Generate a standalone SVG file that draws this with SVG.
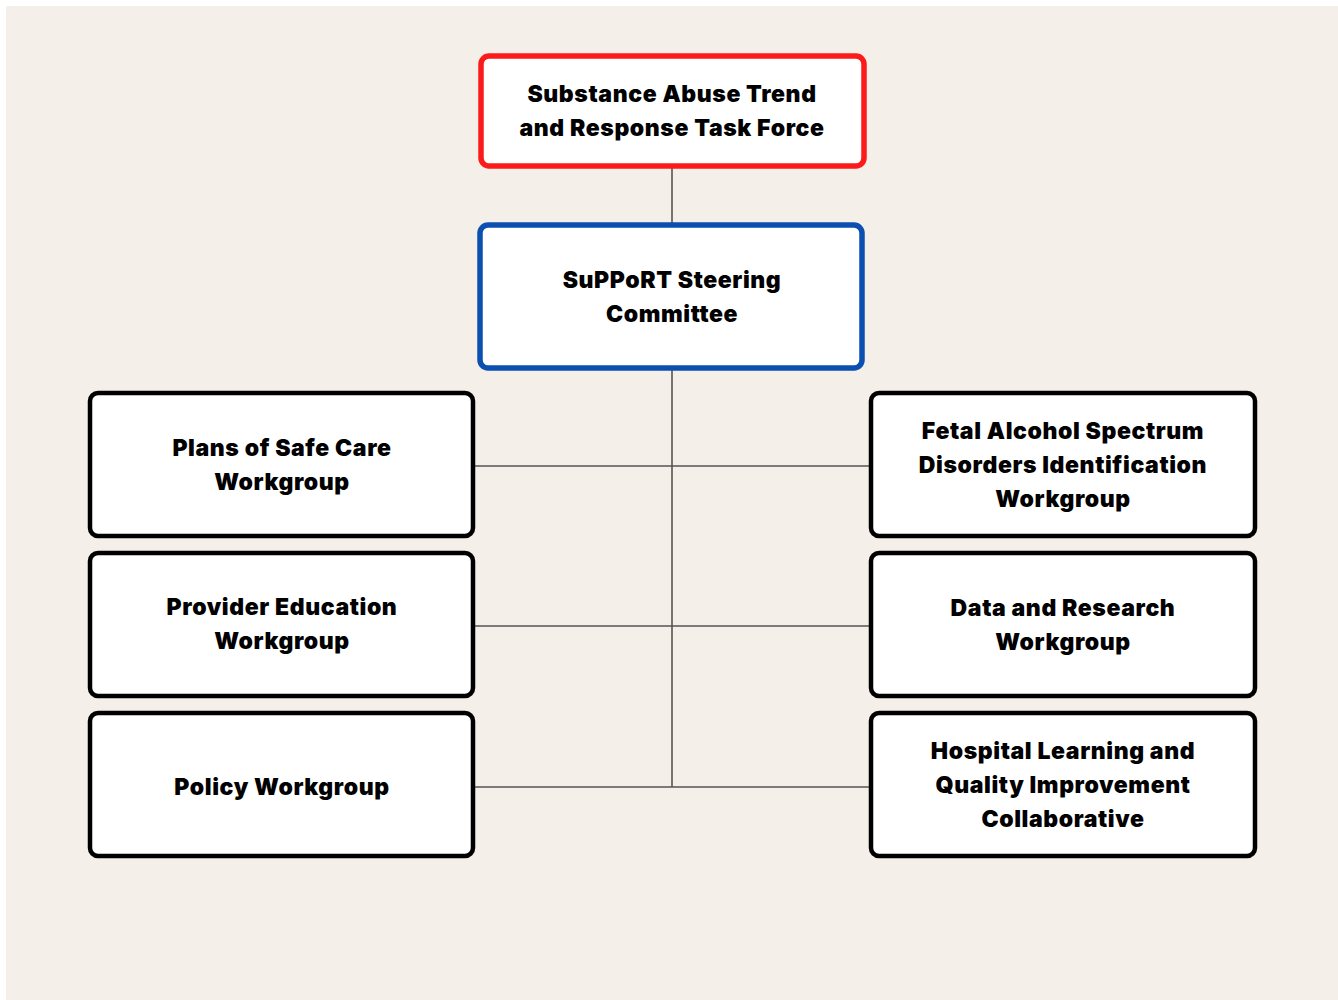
<svg xmlns="http://www.w3.org/2000/svg" width="1338" height="1000" viewBox="0 0 1338 1000">
<style>
.box{fill:#ffffff;stroke:#000000;stroke-width:4.5}
.red{stroke:#fb1b1b;stroke-width:5.5}
.blue{stroke:#0b4fb0;stroke-width:5.5}
.t{font-family:Inter,"Liberation Sans",sans-serif;font-weight:900;font-size:23px;fill:#000;text-anchor:middle;letter-spacing:0.6px}
.c{stroke:#555555;stroke-width:1.6;fill:none}
</style>
<rect x="0" y="0" width="1338" height="1000" fill="#ffffff"/>
<rect x="6" y="6" width="1332" height="994" fill="#f4efe9"/>
<g id="connectors">
<line class="c" x1="672" y1="167" x2="672" y2="224"/>
<line class="c" x1="672" y1="369" x2="672" y2="787"/>
<line class="c" x1="474" y1="466" x2="870" y2="466"/>
<line class="c" x1="474" y1="626" x2="870" y2="626"/>
<line class="c" x1="474" y1="787" x2="870" y2="787"/>
</g>
<g id="task-force">
<rect class="box red" x="481" y="56" width="383" height="110" rx="8"/>
<text class="t" x="672" y="102">Substance Abuse Trend</text>
<text class="t" x="672" y="136">and Response Task Force</text>
</g>
<g id="steering">
<rect class="box blue" x="480" y="225" width="382" height="143" rx="8"/>
<text class="t" x="672" y="288">SuPPoRT Steering</text>
<text class="t" x="672" y="322">Committee</text>
</g>
<g id="plans">
<rect class="box" x="90" y="393" width="383" height="143" rx="8"/>
<text class="t" x="282" y="456">Plans of Safe Care</text>
<text class="t" x="282" y="490">Workgroup</text>
</g>
<g id="provider">
<rect class="box" x="90" y="553" width="383" height="143" rx="8"/>
<text class="t" x="282" y="615">Provider Education</text>
<text class="t" x="282" y="649">Workgroup</text>
</g>
<g id="policy">
<rect class="box" x="90" y="713" width="383" height="143" rx="8"/>
<text class="t" x="282" y="795">Policy Workgroup</text>
</g>
<g id="fasd">
<rect class="box" x="871" y="393" width="384" height="143" rx="8"/>
<text class="t" x="1063" y="439">Fetal Alcohol Spectrum</text>
<text class="t" x="1063" y="473">Disorders Identification</text>
<text class="t" x="1063" y="507">Workgroup</text>
</g>
<g id="data">
<rect class="box" x="871" y="553" width="384" height="143" rx="8"/>
<text class="t" x="1063" y="616">Data and Research</text>
<text class="t" x="1063" y="650">Workgroup</text>
</g>
<g id="hospital">
<rect class="box" x="871" y="713" width="384" height="143" rx="8"/>
<text class="t" x="1063" y="759">Hospital Learning and</text>
<text class="t" x="1063" y="793">Quality Improvement</text>
<text class="t" x="1063" y="827">Collaborative</text>
</g>
</svg>
